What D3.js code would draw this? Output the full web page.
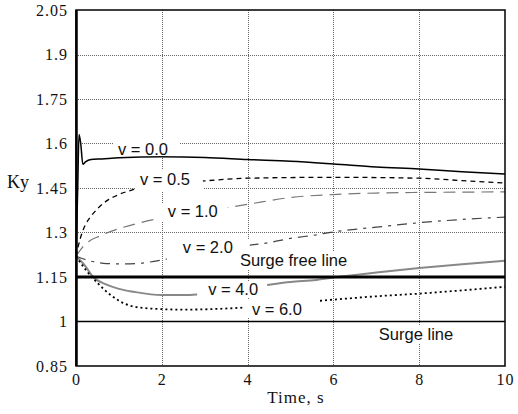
<!DOCTYPE html>
<html>
<head>
<meta charset="utf-8">
<script src="https://cdn.jsdelivr.net/npm/d3@7"></script>
<style>
    body { margin: 0; background: #fff; }
</style>
</head>
<body>
<div id="chart"></div>
<script>
// Tick values
const yTicks = [0.85, 1, 1.15, 1.3, 1.45, 1.6, 1.75, 1.9, 2.05];
const yTickLabels = ["0.85", "1", "1.15", "1.3", "1.45", "1.6", "1.75", "1.9", "2.05"];
const xTicks = [0, 2, 4, 6, 8, 10];

// Ky(t) for each v
const t00 = [0, 0.04, 0.07, 0.11, 0.16, 0.22, 0.35, 0.6, 1.0, 2.0, 3.0, 4.0, 5.0, 6.0, 7.0, 8.0, 9.0, 10.0];
const k00 = [1.22, 1.45, 1.63, 1.60, 1.53, 1.538, 1.546, 1.548, 1.552, 1.555, 1.553, 1.546, 1.54, 1.531, 1.521, 1.514, 1.505, 1.497];

const t05 = [0, 0.1, 0.2, 0.35, 0.5, 0.75, 1.0, 1.3, 2.0, 3.0, 4.0, 6.0, 8.0, 9.0, 10.0];
const k05 = [1.22, 1.28, 1.32, 1.355, 1.38, 1.41, 1.428, 1.443, 1.46, 1.474, 1.483, 1.486, 1.483, 1.475, 1.467];

const t10 = [0, 0.15, 0.3, 0.55, 1.0, 1.5, 2.0, 3.0, 4.0, 5.0, 6.0, 7.0, 8.0, 9.0, 10.0];
const k10 = [1.22, 1.25, 1.27, 1.288, 1.313, 1.333, 1.349, 1.372, 1.395, 1.418, 1.428, 1.433, 1.435, 1.436, 1.437];

const t20 = [0, 0.3, 0.6, 1.0, 1.4, 1.7, 2.1, 3.0, 4.1, 4.5, 5.0, 5.6, 6.0, 7.0, 8.0, 9.0, 10.0];
const k20 = [1.22, 1.205, 1.197, 1.194, 1.195, 1.2, 1.21, 1.232, 1.258, 1.266, 1.28, 1.292, 1.302, 1.318, 1.333, 1.344, 1.352];

const t40 = [0, 0.2, 0.4, 0.7, 1.0, 1.35, 2.0, 2.6, 3.0, 4.45, 5.0, 5.6, 6.0, 7.0, 8.0, 9.0, 10.0];
const k40 = [1.22, 1.19, 1.15, 1.125, 1.11, 1.1, 1.089, 1.089, 1.093, 1.123, 1.133, 1.14, 1.148, 1.165, 1.18, 1.193, 1.205];

const t60 = [0, 0.25, 0.5, 0.8, 1.0, 1.3, 1.8, 2.5, 3.2, 3.8, 4.8, 5.7, 6.2, 7.0, 8.0, 9.0, 10.0];
const k60 = [1.22, 1.17, 1.13, 1.09, 1.07, 1.052, 1.043, 1.04, 1.042, 1.046, 1.058, 1.07, 1.076, 1.085, 1.094, 1.105, 1.117];

const surgeFreeLevel = 1.15;
const surgeLevel = 1.0;

const labelTexts = ["v = 0.0", "v = 0.5", "v = 1.0", "v = 2.0", "Surge free line", "v = 4.0", "v = 6.0", "Surge line"];

// Dimensions
const margin = { top: 10, right: 13, bottom: 48, left: 76 };
const width = 518 - margin.left - margin.right;
const height = 414 - margin.top - margin.bottom;

const svg = d3.select("#chart")
    .append("svg")
    .attr("width", width + margin.left + margin.right)
    .attr("height", height + margin.top + margin.bottom)
    .append("g")
    .attr("transform", `translate(${margin.left},${margin.top})`);

const x = d3.scaleLinear().domain([0, 10]).range([0, width]);
const y = d3.scaleLinear().domain([0.85, 2.05]).range([height, 0]);

// Grid (dotted)
svg.selectAll(".hgrid")
    .data(yTicks.filter(d => d > 1.2 && d < 2))
    .enter()
    .append("line")
    .attr("x1", 0).attr("x2", width)
    .attr("y1", d => Math.round(y(d)) + 0.5).attr("y2", d => Math.round(y(d)) + 0.5)
    .attr("stroke", "#666")
    .attr("stroke-width", 1)
    .attr("stroke-dasharray", "1,1");

svg.selectAll(".vgrid")
    .data(xTicks.filter(d => d > 0 && d < 10))
    .enter()
    .append("line")
    .attr("x1", d => Math.round(x(d)) + 0.5).attr("x2", d => Math.round(x(d)) + 0.5)
    .attr("y1", 0).attr("y2", height)
    .attr("stroke", "#666")
    .attr("stroke-width", 1)
    .attr("stroke-dasharray", "1,1");

// Curves
const series = [
    { t: t00, k: k00, color: "#000", w: 1.5, dash: null },
    { t: t05, k: k05, color: "#000", w: 1.3, dash: "5,4" },
    { t: t10, k: k10, color: "#777", w: 1.2, dash: "12,7" },
    { t: t20, k: k20, color: "#444", w: 1.2, dash: "10,6,3,6" },
    { t: t40, k: k40, color: "#888", w: 2, dash: null },
    { t: t60, k: k60, color: "#000", w: 1.8, dash: "2,3" }
];

const line = d3.line()
    .x(d => x(d[0]))
    .y(d => y(d[1]))
    .curve(d3.curveMonotoneX);

series.forEach(s => {
    svg.append("path")
        .datum(s.t.map((t, i) => [t, s.k[i]]))
        .attr("fill", "none")
        .attr("stroke", s.color)
        .attr("stroke-width", s.w)
        .attr("stroke-dasharray", s.dash)
        .attr("d", line);
});

// Surge lines
svg.append("line")
    .attr("x1", 0).attr("x2", width)
    .attr("y1", y(surgeFreeLevel)).attr("y2", y(surgeFreeLevel))
    .attr("stroke", "#000").attr("stroke-width", 3);

svg.append("line")
    .attr("x1", 0).attr("x2", width)
    .attr("y1", y(surgeLevel)).attr("y2", y(surgeLevel))
    .attr("stroke", "#000").attr("stroke-width", 1.5);

// Labels: anchor in data units, white mask box around text (px offsets)
const labelPos = [
    { t: 0.98, k: 1.561, box: [-5, 62, -15, 1] },
    { t: 1.49, k: 1.460, box: [-5, 63, -15, 6] },
    { t: 2.14, k: 1.352, box: [-8, 60, -14, 4] },
    { t: 2.49, k: 1.231, box: [-16, 67, -14, 9] },
    { t: 3.82, k: 1.187, box: [-3, 114, -14, 4] },
    { t: 3.08, k: 1.089, box: [-11, 59, -14, 3] },
    { t: 4.10, k: 1.022, box: [-9, 68, -15, 3] },
    { t: 7.06, k: 0.938, box: [-4, 81, -15, 4] }
];

labelPos.forEach(p => {
    svg.append("rect")
        .attr("x", x(p.t) + p.box[0])
        .attr("y", y(p.k) + p.box[2])
        .attr("width", p.box[1] - p.box[0])
        .attr("height", p.box[3] - p.box[2])
        .attr("fill", "#fff");
});

labelPos.forEach((p, i) => {
    svg.append("text")
        .attr("x", x(p.t))
        .attr("y", y(p.k))
        .style("font-family", "'Liberation Sans', Arial, sans-serif")
        .style("font-size", "16.5px")
        .attr("fill", "#111")
        .text(labelTexts[i]);
});

// Frame
svg.append("rect")
    .attr("x", 0).attr("y", 0)
    .attr("width", width).attr("height", height)
    .attr("fill", "none")
    .attr("stroke", "#000")
    .attr("stroke-width", 1.5);

svg.append("line")
    .attr("x1", 0.5).attr("x2", 0.5)
    .attr("y1", 0).attr("y2", height)
    .attr("stroke", "#000")
    .attr("stroke-width", 2.5);

// Axes
const yAxis = svg.append("g")
    .call(d3.axisLeft(y)
        .tickValues(yTicks)
        .tickFormat((d, i) => yTickLabels[i])
        .tickSize(0)
        .tickPadding(8));
yAxis.select(".domain").remove();

const xAxis = svg.append("g")
    .attr("transform", `translate(0,${height})`)
    .call(d3.axisBottom(x)
        .tickValues(xTicks)
        .tickSize(0)
        .tickPadding(8));
xAxis.select(".domain").remove();

svg.selectAll(".tick text")
    .style("font-family", "'Liberation Serif', 'Times New Roman', serif")
    .style("font-size", "16px")
    .style("letter-spacing", "1px")
    .attr("fill", "#111");

// Axis titles
svg.append("text")
    .attr("x", 7 - margin.left)
    .attr("y", 188 - margin.top)
    .style("font-family", "'Liberation Serif', 'Times New Roman', serif")
    .style("font-size", "18px")
    .attr("fill", "#111")
    .text("Ky");

svg.append("text")
    .attr("x", 296 - margin.left)
    .attr("y", 403 - margin.top)
    .attr("text-anchor", "middle")
    .style("font-family", "'Liberation Serif', 'Times New Roman', serif")
    .style("font-size", "17px")
    .style("letter-spacing", "1px")
    .attr("fill", "#111")
    .text("Time, s");
</script>
</body>
</html>
